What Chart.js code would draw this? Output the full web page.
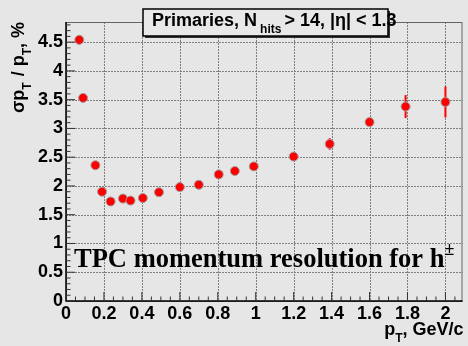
<!DOCTYPE html>
<html lang="en">
<head>
<meta charset="UTF-8">
<title>TPC momentum resolution</title>
<script src="https://cdn.jsdelivr.net/npm/chart.js"></script>
<style>
    html, body { margin: 0; padding: 0; background: #e6e6e6; }
    #wrap { position: relative; width: 468px; height: 346px; }
</style>
</head>
<body>
<div id="wrap"><canvas id="chart"></canvas></div>
<script>
// data
const pt     = [0.07, 0.09, 0.155, 0.19, 0.235, 0.30, 0.34, 0.405, 0.49, 0.60, 0.70, 0.805, 0.89, 0.99, 1.20, 1.39, 1.60, 1.79, 2.00];
const res    = [4.54, 3.53, 2.36, 1.90, 1.73, 1.78, 1.745, 1.79, 1.89, 1.98, 2.02, 2.20, 2.26, 2.34, 2.51, 2.73, 3.11, 3.38, 3.46];
const resErr = [0.08, 0.04, 0.04, 0.03, 0.03, 0.03, 0.03, 0.03, 0.04, 0.04, 0.05, 0.05, 0.05, 0.05, 0.06, 0.10, 0.06, 0.20, 0.27];
const xTicks = [0, 0.2, 0.4, 0.6, 0.8, 1, 1.2, 1.4, 1.6, 1.8, 2];
const yTicks = [0, 0.5, 1, 1.5, 2, 2.5, 3, 3.5, 4, 4.5];

const SANS = "'Liberation Sans', Arial, sans-serif";
const SERIF = "'Liberation Serif', 'Times New Roman', serif";

// draw a run of text pieces, some of them subscript / superscript
function richText(ctx, x, y, parts, size) {
    let cx = x;
    parts.forEach(p => {
        const s = p.sub || p.sup ? Math.round(size * 0.68) : size;
        ctx.font = 'bold ' + s + 'px ' + (p.serif ? SERIF : SANS);
        const dy = p.sub ? size * 0.38 : (p.sup ? -size * 0.45 : 0);
        ctx.fillText(p.t, cx, y + dy);
        cx += ctx.measureText(p.t).width + (p.gap || 0);
    });
    return cx - x;
}
function richWidth(ctx, parts, size) {
    let w = 0;
    parts.forEach(p => {
        const s = p.sub || p.sup ? Math.round(size * 0.68) : size;
        ctx.font = 'bold ' + s + 'px ' + (p.serif ? SERIF : SANS);
        w += ctx.measureText(p.t).width + (p.gap || 0);
    });
    return w;
}

const background = {
    id: 'background',
    beforeDraw(chart) {
        const ctx = chart.ctx;
        ctx.save();
        ctx.fillStyle = '#e6e6e6';
        ctx.fillRect(0, 0, chart.width, chart.height);
        ctx.restore();
    }
};

// dotted grid at the major ticks, then the error bars under the markers
const gridAndErrors = {
    id: 'gridAndErrors',
    beforeDatasetsDraw(chart) {
        const ctx = chart.ctx, a = chart.chartArea, xs = chart.scales.x, ys = chart.scales.y;
        ctx.save();
        ctx.strokeStyle = '#808080';
        ctx.lineWidth = 1;
        ctx.setLineDash([2, 1]);
        xTicks.forEach(v => {
            const px = Math.round(xs.getPixelForValue(v)) + 0.5;
            ctx.beginPath();
            ctx.moveTo(px, a.top);
            ctx.lineTo(px, a.bottom);
            ctx.stroke();
        });
        yTicks.forEach(v => {
            const py = Math.round(ys.getPixelForValue(v)) + 0.5;
            ctx.beginPath();
            ctx.moveTo(a.left, py);
            ctx.lineTo(a.right, py);
            ctx.stroke();
        });
        ctx.setLineDash([]);

        ctx.strokeStyle = '#ff0000';
        ctx.lineWidth = 2;
        pt.forEach((v, i) => {
            const px = xs.getPixelForValue(v);
            ctx.beginPath();
            ctx.moveTo(px, ys.getPixelForValue(res[i] - resErr[i]));
            ctx.lineTo(px, ys.getPixelForValue(res[i] + resErr[i]));
            ctx.stroke();
        });
        ctx.restore();
    }
};

const decorations = {
    id: 'decorations',
    afterDraw(chart) {
        const ctx = chart.ctx, a = chart.chartArea;
        const xs = chart.scales.x, ys = chart.scales.y;
        ctx.save();

        // frame
        ctx.strokeStyle = '#666';
        ctx.lineWidth = 1;
        ctx.strokeRect(a.left + 0.5, a.top + 0.5, a.right - a.left - 1, a.bottom - a.top);
        ctx.strokeStyle = '#000';
        ctx.lineWidth = 1.5;
        ctx.beginPath();
        ctx.moveTo(a.left, a.top);
        ctx.lineTo(a.left, a.bottom);
        ctx.lineTo(a.right, a.bottom);
        ctx.stroke();

        // inward ticks, ROOT style
        ctx.lineWidth = 1;
        ctx.strokeStyle = '#333';
        for (let k = 0; k <= 41; k++) {
            const v = k * 0.05;
            if (v > xs.max) break;
            const px = xs.getPixelForValue(v);
            const len = k % 4 === 0 ? 9 : 4.5;
            ctx.beginPath();
            ctx.moveTo(px, a.bottom);
            ctx.lineTo(px, a.bottom - len);
            ctx.stroke();
        }
        for (let k = 0; k <= 48; k++) {
            const v = k * 0.1;
            if (v > ys.max) break;
            const py = ys.getPixelForValue(v);
            const len = k % 5 === 0 ? 9 : 4.5;
            ctx.beginPath();
            ctx.moveTo(a.left, py);
            ctx.lineTo(a.left + len, py);
            ctx.stroke();
        }

        ctx.fillStyle = '#000';
        ctx.textBaseline = 'alphabetic';
        ctx.textAlign = 'left';

        // y axis title, rotated, aligned to the top of the axis
        const yTitle = [{t: 'σp'}, {t: 'T', sub: true, gap: 1}, {t: ' / p'}, {t: 'T', sub: true}, {t: ', %'}];
        const yw = richWidth(ctx, yTitle, 18);
        ctx.save();
        ctx.translate(24, a.top);
        ctx.rotate(-Math.PI / 2);
        richText(ctx, -yw, 0, yTitle, 18);
        ctx.restore();

        // x axis title, aligned to the right
        const xTitle = [{t: 'p'}, {t: 'T', sub: true}, {t: ', GeV/c'}];
        const xw = richWidth(ctx, xTitle, 18);
        richText(ctx, a.right + 1 - xw, 335, xTitle, 18);

        // statistics box at the top
        const bx = 143, by = 9, bw = 245, bh = 27;
        ctx.fillStyle = '#333';
        ctx.fillRect(bx + 2, by + 2, bw, bh);
        ctx.fillStyle = '#e8e8e8';
        ctx.fillRect(bx, by, bw, bh);
        ctx.strokeStyle = '#000';
        ctx.lineWidth = 1.5;
        ctx.strokeRect(bx, by, bw, bh);
        ctx.fillStyle = '#000';
        richText(ctx, 152, 26, [{t: 'Primaries, N', gap: 3}, {t: 'hits', sub: true, gap: 3}, {t: '> 14, |η| < 1.3'}], 18);

        // overlay label
        richText(ctx, 74, 267, [{t: 'TPC momentum resolution for h', serif: true}, {t: '±', serif: true, sup: true}], 26.5);

        ctx.restore();
    }
};

new Chart(document.getElementById('chart'), {
    type: 'scatter',
    data: {
        datasets: [{
            data: pt.map((v, i) => ({x: v, y: res[i]})),
            backgroundColor: '#ff0000',
            borderColor: '#a0a0a0',
            borderWidth: 1,
            pointRadius: 4.5,
            pointHoverRadius: 4.5
        }]
    },
    options: {
        responsive: true,
        maintainAspectRatio: false,
        animation: false,
        layout: { padding: { left: 4, right: 3, top: 22, bottom: 0 } },
        plugins: {
            legend: { display: false },
            tooltip: { enabled: false }
        },
        scales: {
            x: {
                type: 'linear',
                min: 0,
                max: 2.09,
                afterBuildTicks: s => { s.ticks = xTicks.map(v => ({value: v})); },
                afterFit: s => { s.height = 45; },
                ticks: {
                    autoSkip: false,
                    maxRotation: 0,
                    padding: 2,
                    color: '#000',
                    font: { family: SANS, size: 18, weight: 'bold' },
                    callback: v => String(Math.round(v * 10) / 10)
                },
                grid: { display: false, drawTicks: false },
                border: { display: false }
            },
            y: {
                min: 0,
                max: 4.85,
                afterBuildTicks: s => { s.ticks = yTicks.map(v => ({value: v})); },
                afterFit: s => { s.width = 62; },
                ticks: {
                    padding: 3,
                    color: '#000',
                    font: { family: SANS, size: 18, weight: 'bold' },
                    callback: v => String(Math.round(v * 10) / 10)
                },
                grid: { display: false, drawTicks: false },
                border: { display: false }
            }
        }
    },
    plugins: [background, gridAndErrors, decorations]
});
</script>
</body>
</html>
